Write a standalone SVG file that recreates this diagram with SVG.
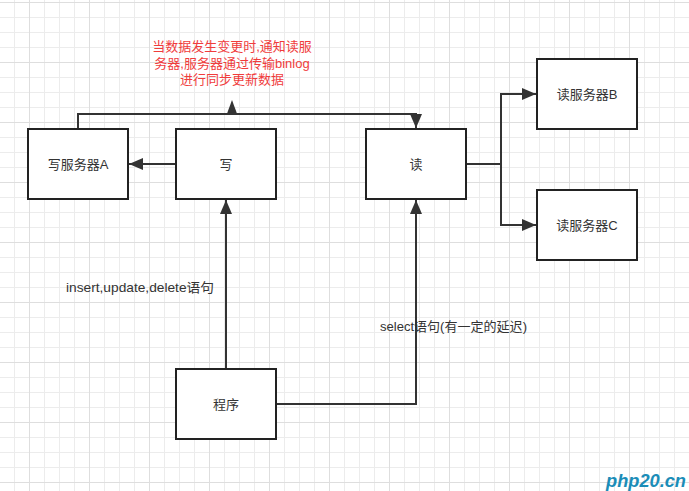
<svg xmlns="http://www.w3.org/2000/svg" width="689" height="491" viewBox="0 0 689 491">
<defs>
<pattern id="gmin" x="14" y="2" width="15" height="15" patternUnits="userSpaceOnUse"><path d="M0 0.5H15M0.5 0V15" stroke="#ececec" stroke-width="1" fill="none"/></pattern>
<pattern id="gmaj" x="29" y="2" width="60" height="60" patternUnits="userSpaceOnUse"><path d="M0 0.5H60M0.5 0V60" stroke="#dedede" stroke-width="1" fill="none"/></pattern>
<marker id="arr" markerUnits="userSpaceOnUse" markerWidth="16" markerHeight="12" refX="14" refY="6" orient="auto"><path d="M0 0L14 6L0 12Z" fill="#333"/></marker>
</defs>
<style>
.box{fill:#fff;stroke:#222;stroke-width:2}
.lbl{font-family:"Liberation Sans","Noto Sans CJK SC",sans-serif;font-size:13px;fill:#333;text-anchor:middle}
.edge{fill:none;stroke:#333;stroke-width:2}
.note{font-family:"Liberation Sans","Noto Sans CJK SC",sans-serif;font-size:13px;fill:#333}
.red{font-family:"Liberation Sans","Noto Sans CJK SC",sans-serif;font-size:13px;fill:#f03c3c;text-anchor:middle}
</style>
<rect width="689" height="491" fill="#fff"/>
<rect width="689" height="491" fill="url(#gmin)"/>
<rect width="689" height="491" fill="url(#gmaj)"/>

<g id="connectors">
<path class="edge" d="M176 164H129" marker-end="url(#arr)"/>
<path class="edge" d="M78 129V114H416V128" marker-end="url(#arr)"/>
<path d="M226.5 115L232 100L237.5 115Z" fill="#333"/>
<path class="edge" d="M466 164H501V94H536" marker-end="url(#arr)"/>
<path class="edge" d="M466 164H501V225H536" marker-end="url(#arr)"/>
<path class="edge" d="M226 369V200" marker-end="url(#arr)"/>
<path class="edge" d="M276 404H416V200" marker-end="url(#arr)"/>
</g>

<g id="write-server-a"><rect class="box" x="28" y="129" width="100" height="70"/><text class="lbl" x="78" y="168.5">写服务器A</text></g>
<g id="write"><rect class="box" x="176" y="129" width="100" height="70"/><text class="lbl" x="226" y="168.5">写</text></g>
<g id="read"><rect class="box" x="366" y="129" width="100" height="70"/><text class="lbl" x="416" y="168.5">读</text></g>
<g id="read-server-b"><rect class="box" x="537" y="59" width="100" height="70"/><text class="lbl" x="587" y="98.5">读服务器B</text></g>
<g id="read-server-c"><rect class="box" x="537" y="190" width="100" height="70"/><text class="lbl" x="587" y="229.5">读服务器C</text></g>
<g id="program"><rect class="box" x="176" y="369" width="100" height="70"/><text class="lbl" x="226" y="408.5">程序</text></g>

<g id="labels">
<text class="red" x="232" y="50.5">当数据发生变更时,通知读服</text>
<text class="red" x="232" y="67.5">务器,服务器通过传输binlog</text>
<text class="red" x="232" y="84">进行同步更新数据</text>
<text class="note" x="66" y="291.5" textLength="148" lengthAdjust="spacingAndGlyphs">insert,update,delete语句</text>
<text class="note" x="380" y="331" textLength="147" lengthAdjust="spacingAndGlyphs">select语句(有一定的延迟)</text>
<text x="686" y="487" text-anchor="end" font-family="Liberation Sans,sans-serif" font-size="18" font-weight="bold" font-style="italic" fill="#1b8db8" textLength="80" lengthAdjust="spacingAndGlyphs">php20.cn</text>
</g>
</svg>
